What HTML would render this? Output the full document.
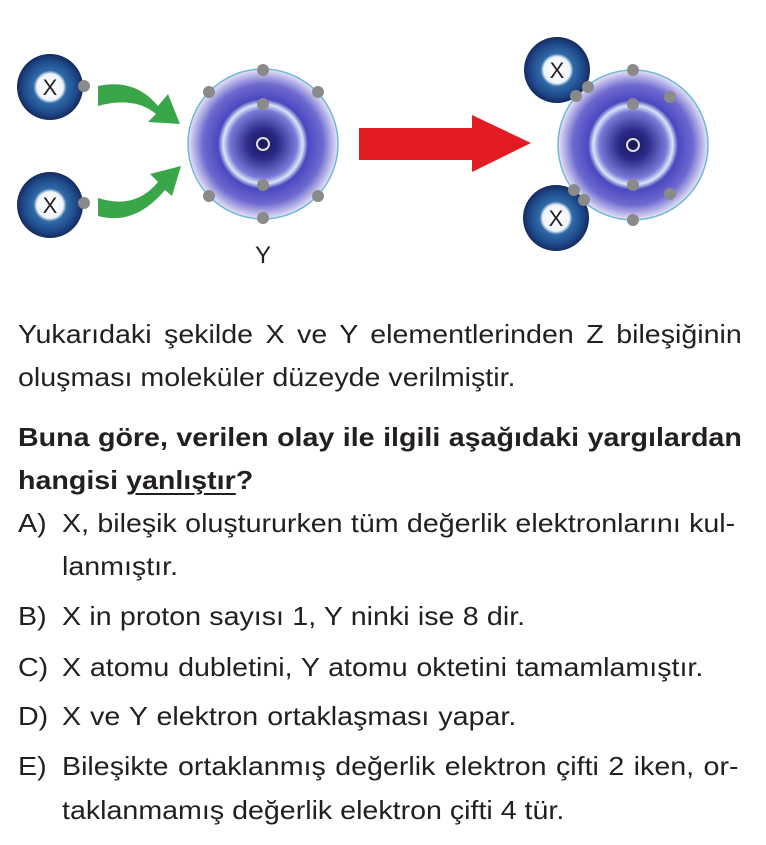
<!DOCTYPE html>
<html><head><meta charset="utf-8"><style>
html,body{margin:0;padding:0;background:#fff;width:766px;height:845px;overflow:hidden;position:relative}
svg text{font-family:"Liberation Sans",Arial,sans-serif;fill:#231f20}
.l{position:absolute;left:0;top:0;font-family:"Liberation Sans",Arial,sans-serif;font-size:26px;line-height:30px;color:#231f20;white-space:nowrap;transform:scaleX(1.1);transform-origin:0 0;text-align:justify;text-align-last:justify}
.n{text-align:left;text-align-last:left}
.b{font-weight:bold}
u{text-decoration-thickness:1.5px;text-underline-offset:4px}
</style></head><body>
<svg width="766" height="845" viewBox="0 0 766 845" xmlns="http://www.w3.org/2000/svg" style="position:absolute;left:0;top:0">
<defs>
<radialGradient id="ya" cx="50%" cy="50%" r="50%">
<stop offset="0" stop-color="#1a1550"/>
<stop offset="0.2" stop-color="#2a2a8a"/>
<stop offset="0.45" stop-color="#7a7ad8"/>
<stop offset="0.53" stop-color="#d8e6f6"/>
<stop offset="0.6" stop-color="#4a48c0"/>
<stop offset="0.8" stop-color="#6e6ad0"/>
<stop offset="1" stop-color="#e8e4f6"/>
</radialGradient>
<radialGradient id="xa" cx="50%" cy="50%" r="50%">
<stop offset="0" stop-color="#fff"/>
<stop offset="0.4" stop-color="#f0f4fa"/>
<stop offset="0.5" stop-color="#2f6aa8"/>
<stop offset="0.8" stop-color="#1e4a8a"/>
<stop offset="1" stop-color="#152a60"/>
</radialGradient>
<g id="e"><circle r="6" fill="#8a8a8a"/></g>
</defs>
<circle cx="50" cy="87" r="33" fill="url(#xa)"/><text x="50" y="95" font-size="22" text-anchor="middle">X</text>
<use href="#e" x="84" y="86"/>
<circle cx="50" cy="205" r="33" fill="url(#xa)"/><text x="50" y="213" font-size="22" text-anchor="middle">X</text>
<use href="#e" x="84" y="203"/>
<path d="M98 86 Q135 78 158 106 L168 94 L180 124 L148 122 L156 114 Q135 96 98 106 Z" fill="#3aa64a"/>
<path d="M98 198 Q135 210 158 182 L150 174 L181 166 L172 196 L165 190 Q135 226 98 216 Z" fill="#3aa64a"/>
<circle cx="263" cy="144" r="75" fill="url(#ya)" stroke="#6fb8d8" stroke-width="1.5"/>
<circle cx="263" cy="144" r="6" fill="none" stroke="#ddd" stroke-width="2"/>
<use href="#e" x="263" y="70"/><use href="#e" x="209" y="92"/><use href="#e" x="318" y="92"/>
<use href="#e" x="263" y="104"/><use href="#e" x="263" y="185"/>
<use href="#e" x="209" y="196"/><use href="#e" x="318" y="196"/><use href="#e" x="263" y="218"/>
<text x="263" y="263" font-size="24" text-anchor="middle">Y</text>
<path d="M359 128 L472 128 L472 115 L531 143 L472 172 L472 160 L359 160 Z" fill="#e31c24"/>
<circle cx="633" cy="145" r="75" fill="url(#ya)" stroke="#6fb8d8" stroke-width="1.5"/>
<circle cx="633" cy="145" r="6" fill="none" stroke="#ddd" stroke-width="2"/>
<circle cx="557" cy="70" r="33" fill="url(#xa)"/><text x="557" y="78" font-size="22" text-anchor="middle">X</text>
<circle cx="556" cy="218" r="33" fill="url(#xa)"/><text x="556" y="226" font-size="22" text-anchor="middle">X</text>
<use href="#e" x="633" y="70"/><use href="#e" x="670" y="97"/><use href="#e" x="633" y="104"/>
<use href="#e" x="633" y="185"/><use href="#e" x="670" y="194"/><use href="#e" x="633" y="220"/>
<use href="#e" x="588" y="87"/><use href="#e" x="576" y="96"/>
<use href="#e" x="574" y="190"/><use href="#e" x="584" y="200"/>
</svg>
<div class="l" style="left:18px;top:319px;width:658px">Yukarıdaki şekilde X ve Y elementlerinden Z bileşiğinin</div>
<div class="l n" style="left:18px;top:362px">oluşması moleküler düzeyde verilmiştir.</div>
<div class="l b" style="left:18px;top:422px;width:658px">Buna göre, verilen olay ile ilgili aşağıdaki yargılardan</div>
<div class="l b n" style="left:18px;top:465px">hangisi <u>yanlıştır</u>?</div>
<div class="l n" style="left:18px;top:508px">A)</div>
<div class="l" style="left:62px;top:508px;width:612px">X, bileşik oluştururken tüm değerlik elektronlarını kul-</div>
<div class="l n" style="left:62px;top:551px">lanmıştır.</div>
<div class="l n" style="left:18px;top:601px">B)</div>
<div class="l" style="left:62px;top:601px;width:421px">X in proton sayısı 1, Y ninki ise 8 dir.</div>
<div class="l n" style="left:18px;top:652px">C)</div>
<div class="l" style="left:62px;top:652px;width:583px">X atomu dubletini, Y atomu oktetini tamamlamıştır.</div>
<div class="l n" style="left:18px;top:701px">D)</div>
<div class="l" style="left:62px;top:701px;width:413px">X ve Y elektron ortaklaşması yapar.</div>
<div class="l n" style="left:18px;top:751px">E)</div>
<div class="l" style="left:62px;top:751px;width:615px">Bileşikte ortaklanmış değerlik elektron çifti 2 iken, or-</div>
<div class="l" style="left:62px;top:795px;width:452px">taklanmamış değerlik elektron çifti 4 tür.</div>
</body></html>
